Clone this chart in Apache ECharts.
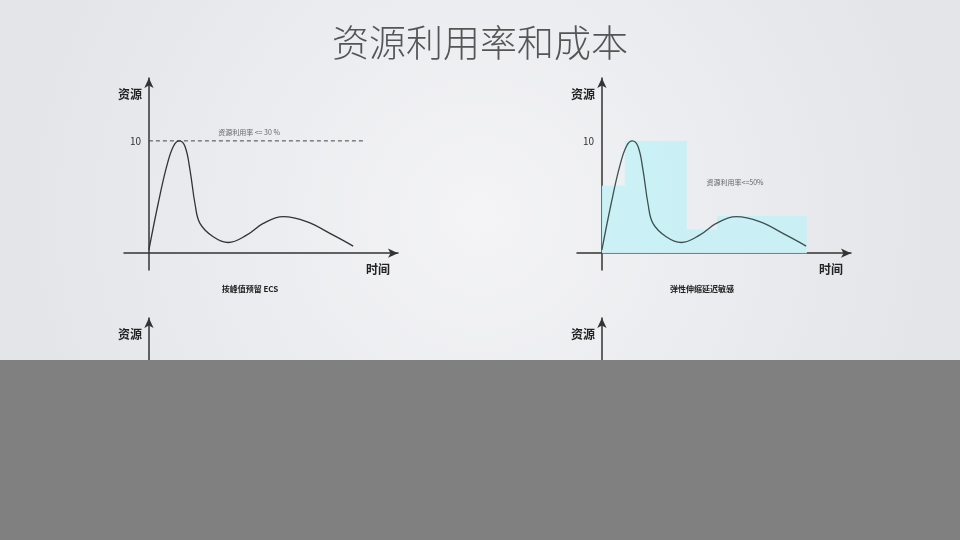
<!DOCTYPE html>
<html>
<head>
<meta charset="utf-8">
<script src="https://cdn.jsdelivr.net/npm/echarts@6/dist/echarts.min.js"></script>
<style>
  html, body { margin: 0; padding: 0; }
  #chart { width: 960px; height: 540px; }
</style>
</head>
<body>
<div id="chart"></div>
<script>
// demand curve (same shape in both top panels)
const timeValues = [0, 3.7, 7.1, 9.8, 12.2, 14.5, 16.5, 18.5, 20.5, 25.8, 31.9, 39.2, 45.9, 53.9, 63.3, 74, 82]
const resourceValues = [0.3, 4.4, 7.7, 9.5, 10, 9.5, 7.4, 4.4, 2.65, 1.46, 0.95, 1.6, 2.65, 3.25, 2.8, 1.6, 0.63]

// reserved at peak (panel 1)
const peakTimes = [0, 87]
const peakValues = [10, 10]

// autoscaling capacity steps (panel 2)
const stepTimes = [0, 9.2, 34.1, 46.2, 82.3]
const stepValues = [6, 10, 2.1, 3.3, 3.3]

const yTickValues = [10]
const panelTitles = ['按峰值预留 ECS', '弹性伸缩延迟敏感']
const panelNotes = ['资源利用率 <= 30 %', '资源利用率<=50%']

const zip = (xs, ys) => xs.map((x, i) => [x, ys[i]])

const chart = echarts.init(document.getElementById('chart'))
const font = "'Noto Sans CJK SC', 'Noto Sans', sans-serif"

const axisLine = {
  onZero: true,
  symbol: ['none', 'arrow'],
  symbolSize: [7, 10],
  lineStyle: { color: '#333', width: 1.5 }
}

function xAxisFor(i, withName) {
  return {
    gridIndex: i,
    type: 'value',
    min: -10,
    max: 100,
    show: withName,
    axisLine: axisLine,
    axisTick: { show: false },
    axisLabel: { show: false },
    splitLine: { show: false },
    name: withName ? '时间' : '',
    nameLocation: 'end',
    nameGap: -8,
    nameTextStyle: {
      align: 'right', verticalAlign: 'top', padding: [10, 0, 0, 0],
      fontSize: 12, fontWeight: 'bold', color: '#222', fontFamily: font
    }
  }
}

function yAxisFor(i, withLabel, min, max) {
  return {
    gridIndex: i,
    type: 'value',
    min: min,
    max: max,
    axisLine: axisLine,
    axisTick: { show: false },
    axisLabel: {
      show: withLabel,
      customValues: yTickValues,
      fontSize: 10,
      color: '#333',
      // labels stay at the grid edge, pull them next to the zero line
      margin: -17,
      fontFamily: font
    },
    splitLine: { show: false },
    name: '资源',
    nameLocation: 'end',
    nameGap: -16,
    nameTextStyle: {
      align: 'right', verticalAlign: 'middle', padding: [0, 7, 0, 0],
      fontSize: 12, fontWeight: 'bold', color: '#222', fontFamily: font
    }
  }
}

const option = {
  backgroundColor: {
    type: 'radial', x: 0.5, y: 0.4, r: 0.85,
    colorStops: [
      { offset: 0, color: '#f4f4f6' },
      { offset: 1, color: '#e3e5e9' }
    ]
  },
  animation: false,
  title: {
    text: '资源利用率和成本',
    left: 'center',
    top: 19,
    textStyle: { fontSize: 37, fontWeight: 300, color: '#555', fontFamily: font }
  },
  grid: [
    { left: 124, top: 78, width: 274, height: 192 },
    { left: 577, top: 78, width: 274, height: 192 },
    { left: 124, top: 318, width: 274, height: 200 },
    { left: 577, top: 318, width: 274, height: 200 }
  ],
  xAxis: [xAxisFor(0, true), xAxisFor(1, true), xAxisFor(2, false), xAxisFor(3, false)],
  yAxis: [
    yAxisFor(0, true, -1.5, 15.6),
    yAxisFor(1, true, -1.5, 15.6),
    yAxisFor(2, false, -20, 10),
    yAxisFor(3, false, -20, 10)
  ],
  series: [
    {
      type: 'line', xAxisIndex: 0, yAxisIndex: 0,
      data: zip(peakTimes, peakValues),
      showSymbol: false, silent: true,
      lineStyle: { color: '#444', width: 1, type: [4, 3] }
    },
    {
      type: 'line', xAxisIndex: 0, yAxisIndex: 0,
      data: zip(timeValues, resourceValues),
      smooth: 0.4, showSymbol: false,
      lineStyle: { color: '#333', width: 1.3 }
    },
    {
      type: 'line', xAxisIndex: 1, yAxisIndex: 1,
      data: zip(stepTimes, stepValues),
      step: 'end', showSymbol: false,
      lineStyle: { width: 0 },
      areaStyle: { color: '#c8f0f5', opacity: 0.95 }
    },
    {
      type: 'line', xAxisIndex: 1, yAxisIndex: 1,
      data: zip(timeValues, resourceValues),
      smooth: 0.4, showSymbol: false,
      lineStyle: { color: '#3e5050', width: 1.3 }
    }
  ],
  graphic: [
    {
      type: 'text', x: 250, y: 289,
      style: { text: panelTitles[0], fill: '#222', font: 'bold 8px ' + font, align: 'center', verticalAlign: 'middle' }
    },
    {
      type: 'text', x: 702, y: 289,
      style: { text: panelTitles[1], fill: '#222', font: 'bold 8px ' + font, align: 'center', verticalAlign: 'middle' }
    },
    {
      type: 'text', x: 249, y: 132,
      style: { text: panelNotes[0], fill: '#666', font: '7px ' + font, align: 'center', verticalAlign: 'middle' }
    },
    {
      type: 'text', x: 735, y: 182,
      style: { text: panelNotes[1], fill: '#666', font: '7px ' + font, align: 'center', verticalAlign: 'middle' }
    },
    {
      type: 'rect', z: 100,
      shape: { x: 0, y: 360, width: 960, height: 180 },
      style: { fill: '#808080' }
    }
  ]
}

chart.setOption(option)
</script>
</body>
</html>
